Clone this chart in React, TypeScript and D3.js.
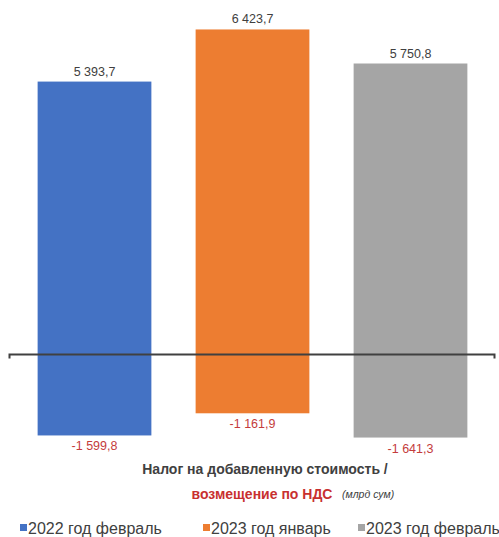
import React from "react";
import * as d3 from "d3";

const categories = ["2022 год февраль", "2023 год январь", "2023 год февраль"];
const taxValues = [5393.7, 6423.7, 5750.8];
const refundValues = [-1599.8, -1161.9, -1641.3];
const colors = ["#4472C4", "#ED7D31", "#A5A5A5"];
const fmt = (v: number) => {
  const s = Math.abs(v).toFixed(1).replace(".", ",");
  const [i, d] = s.split(",");
  const ii = i.replace(/\B(?=(\d{3})+(?!\d))/g, " ");
  return (v < 0 ? "-" : "") + ii + "," + d;
};

export default function App() {
  const W = 499, H = 537;
  const x = d3.scaleBand<string>().domain(categories).range([15.5, 489.5]).paddingInner(0.28).paddingOuter(0.14);
  const k = 0.0506;
  const zero = 354.5;
  const y = d3.scaleLinear().domain([-1700, 6500]).range([zero + 1700 * k, zero - 6500 * k]);
  const font = "'Liberation Sans', Arial, sans-serif";
  const legendX = [20, 203, 358];
  return (
    <svg width={W} height={H} style={{ position: "fixed", left: 0, top: 0, background: "#fff" }} fontFamily={font}>
      <rect width={W} height={H} fill="#fff" />
      {categories.map((c, i) => {
        const x0 = x(c)!;
        const bw = x.bandwidth();
        const cx = x0 + bw / 2;
        return (
          <g key={c}>
            <rect x={x0} y={y(taxValues[i])} width={bw} height={y(0) - y(taxValues[i])} fill={colors[i]} />
            <rect x={x0} y={y(0)} width={bw} height={y(refundValues[i]) - y(0)} fill={colors[i]} />
            <text x={cx} y={y(taxValues[i]) - 6} textAnchor="middle" fontSize={12.5} fill="#404040">{fmt(taxValues[i])}</text>
            <text x={cx} y={y(refundValues[i]) + 15} textAnchor="middle" fontSize={12.5} fill="#C43C3C">{fmt(refundValues[i])}</text>
          </g>
        );
      })}
      <path d={`M9.5,${zero + 4} L9.5,${zero} L494.5,${zero} L494.5,${zero + 4}`} fill="none" stroke="#404040" strokeWidth={2} />
      <text x={265} y={474} textAnchor="middle" fontSize={14} fontWeight="bold" fill="#404040">Налог на добавленную стоимость /</text>
      <text x={262} y={499} textAnchor="middle" fontSize={14} fontWeight="bold" fill="#C8302F">возмещение по НДС</text>
      <text x={342} y={498} fontSize={10.5} fontStyle="italic" fill="#404040">(млрд сум)</text>
      {categories.map((c, i) => (
        <g key={"lg" + c}>
          <rect x={legendX[i]} y={524} width={7} height={7} fill={colors[i]} />
          <text x={legendX[i] + 8} y={534} fontSize={16} fill="#404040">{c}</text>
        </g>
      ))}
    </svg>
  );
}
